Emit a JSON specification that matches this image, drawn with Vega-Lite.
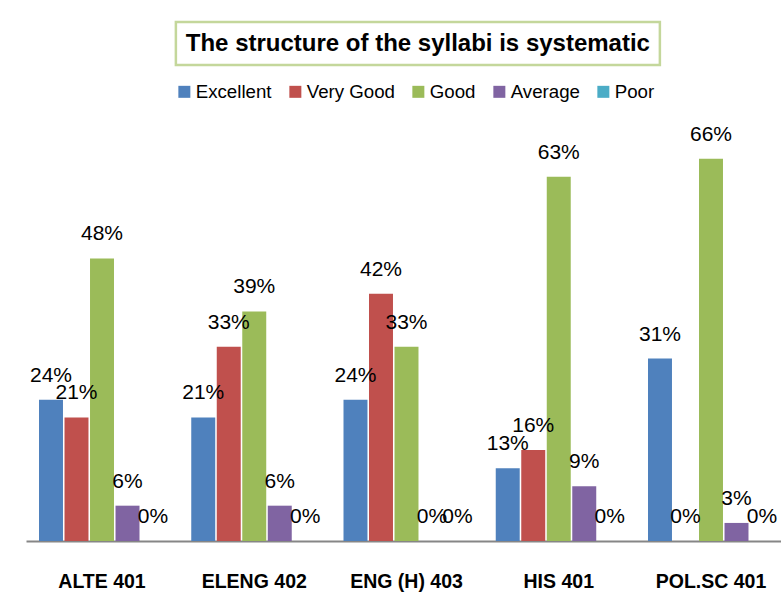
{
  "$schema": "https://vega.github.io/schema/vega-lite/v6.json",
  "padding": {"left": 26, "top": 20, "right": 0, "bottom": 4},
  "background": "white",
  "spacing": 56,
  "center": true,
  "config": {"font": "Liberation Sans", "view": {"stroke": null}},
  "vconcat": [
    {
      "spacing": 0,
      "hconcat": [
        {
          "width": 28,
          "height": 43,
          "data": {"values": [{"title": ""}]},
          "mark": {"type": "text"},
          "encoding": {"text": {"field": "title"}}
        },
        {
          "width": 484,
          "height": 43,
          "view": {"stroke": "#C4D79B", "strokeWidth": 2.5},
          "data": {"values": [{"title": "The structure of the syllabi is systematic"}]},
          "mark": {"type": "text", "fontSize": 24, "fontWeight": "bold", "font": "Liberation Sans", "color": "black", "baseline": "middle"},
          "encoding": {"text": {"field": "title"}}
        }
      ]
    },
    {
      "width": 755,
      "height": 408,
      "data": {"values": [
        {"course": "ALTE 401", "rating": "Excellent", "value": 0.2424},
        {"course": "ALTE 401", "rating": "Very Good", "value": 0.2121},
        {"course": "ALTE 401", "rating": "Good", "value": 0.4848},
        {"course": "ALTE 401", "rating": "Average", "value": 0.0606},
        {"course": "ALTE 401", "rating": "Poor", "value": 0},
        {"course": "ELENG 402", "rating": "Excellent", "value": 0.2121},
        {"course": "ELENG 402", "rating": "Very Good", "value": 0.3333},
        {"course": "ELENG 402", "rating": "Good", "value": 0.3939},
        {"course": "ELENG 402", "rating": "Average", "value": 0.0606},
        {"course": "ELENG 402", "rating": "Poor", "value": 0},
        {"course": "ENG (H) 403", "rating": "Excellent", "value": 0.2424},
        {"course": "ENG (H) 403", "rating": "Very Good", "value": 0.4242},
        {"course": "ENG (H) 403", "rating": "Good", "value": 0.3333},
        {"course": "ENG (H) 403", "rating": "Average", "value": 0},
        {"course": "ENG (H) 403", "rating": "Poor", "value": 0},
        {"course": "HIS 401", "rating": "Excellent", "value": 0.125},
        {"course": "HIS 401", "rating": "Very Good", "value": 0.156},
        {"course": "HIS 401", "rating": "Good", "value": 0.625},
        {"course": "HIS 401", "rating": "Average", "value": 0.094},
        {"course": "HIS 401", "rating": "Poor", "value": 0},
        {"course": "POL.SC 401", "rating": "Excellent", "value": 0.313},
        {"course": "POL.SC 401", "rating": "Very Good", "value": 0},
        {"course": "POL.SC 401", "rating": "Good", "value": 0.656},
        {"course": "POL.SC 401", "rating": "Average", "value": 0.031},
        {"course": "POL.SC 401", "rating": "Poor", "value": 0}
      ]},
      "encoding": {
        "x": {
          "field": "course", "type": "nominal",
          "sort": ["ALTE 401", "ELENG 402", "ENG (H) 403", "HIS 401", "POL.SC 401"],
          "scale": {"paddingInner": 0.1724, "paddingOuter": 0.0657, "align": 0.65},
          "axis": {"title": null, "labelAngle": 0, "ticks": false, "tickSize": 0, "labelPadding": 31, "labelFontSize": 19.5, "labelFontWeight": "bold", "labelColor": "black", "domainColor": "#868686", "domainWidth": 2, "grid": false}
        },
        "xOffset": {"field": "rating", "type": "nominal", "sort": ["Excellent", "Very Good", "Good", "Average", "Poor"], "scale": {"paddingInner": 0.06}},
        "y": {"field": "value", "type": "quantitative", "scale": {"domain": [0, 0.7]}, "axis": null}
      },
      "layer": [
        {
          "mark": {"type": "bar"},
          "encoding": {
            "color": {
              "field": "rating", "type": "nominal",
              "scale": {"domain": ["Excellent", "Very Good", "Good", "Average", "Poor"], "range": ["#4F81BD", "#C0504D", "#9BBB59", "#8064A2", "#4BACC6"]},
              "legend": {"orient": "none", "legendX": 149, "legendY": 60, "direction": "horizontal", "title": null, "symbolType": "square", "symbolSize": 144, "symbolStrokeWidth": 0, "symbolOpacity": 1, "labelFontSize": 18.7, "labelColor": "black", "labelOffset": 2, "columnPadding": 14}
            }
          }
        },
        {
          "mark": {"type": "text", "dy": -18, "baseline": "alphabetic", "fontSize": 21, "color": "black"},
          "encoding": {"text": {"field": "value", "type": "quantitative", "format": ".0%"}}
        }
      ]
    }
  ]
}
